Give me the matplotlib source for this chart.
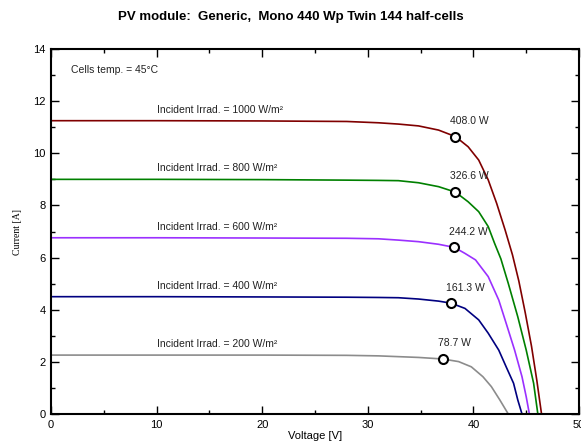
import matplotlib
matplotlib.use('Agg')
import matplotlib.pyplot as plt
from matplotlib.ticker import MultipleLocator

plt.rcParams['font.family'] = ['Liberation Sans', 'DejaVu Sans']

# I-V curves, one per irradiance
irrad = [1000, 800, 600, 400, 200]
colors = ['#800000', '#008000', '#9b30ff', '#000080', '#8c8c8c']

v_1000 = [0, 10, 20, 28, 31.0, 32.9, 34.8, 36.7, 38.3, 39.5, 40.5, 41.4, 42.2, 43.0, 43.7,
          44.3, 44.9, 45.5, 46.0, 46.45]
i_1000 = [11.25, 11.25, 11.24, 11.22, 11.17, 11.12, 11.05, 10.89, 10.64, 10.25, 9.74, 8.98,
          8.08, 7.06, 6.10, 5.10, 3.90, 2.60, 1.30, 0.0]

v_800 = [0, 10, 20, 28, 31.0, 32.9, 34.8, 36.7, 38.3, 39.5, 40.5, 41.4, 42.0, 42.6, 43.3,
         44.2, 45.0, 45.7, 46.1]
i_800 = [9.0, 9.0, 8.99, 8.97, 8.96, 8.95, 8.87, 8.72, 8.51, 8.14, 7.76, 7.19, 6.55, 5.95,
         5.01, 3.73, 2.45, 1.18, 0.0]

v_600 = [0, 10, 20, 28, 31.0, 32.9, 34.8, 36.7, 38.2, 39.2, 40.2, 41.4, 42.4, 43.1, 43.9,
         44.6, 45.0, 45.3]
i_600 = [6.76, 6.76, 6.75, 6.74, 6.72, 6.67, 6.61, 6.51, 6.39, 6.16, 5.91, 5.27, 4.37, 3.48,
         2.45, 1.43, 0.66, 0.0]

v_400 = [0, 10, 20, 28, 31.0, 32.9, 34.8, 36.7, 37.9, 39.2, 40.5, 41.4, 42.4, 43.1, 43.8,
         44.2, 44.6]
i_400 = [4.50, 4.50, 4.49, 4.48, 4.47, 4.46, 4.41, 4.33, 4.25, 4.05, 3.61, 3.10, 2.45, 1.81,
         1.18, 0.54, 0.0]

v_200 = [0, 10, 20, 28, 31.0, 32.9, 34.8, 37.1, 38.6, 39.8, 40.9, 41.7, 42.5, 43.3]
i_200 = [2.26, 2.26, 2.26, 2.25, 2.23, 2.20, 2.17, 2.11, 2.01, 1.81, 1.43, 1.05, 0.54, 0.0]

volts = [v_1000, v_800, v_600, v_400, v_200]
amps = [i_1000, i_800, i_600, i_400, i_200]

# maximum power points
mpp_v = [38.3, 38.3, 38.2, 37.9, 37.1]
mpp_i = [10.64, 8.51, 6.39, 4.25, 2.11]
mpp_w = ['408.0 W', '326.6 W', '244.2 W', '161.3 W', '78.7 W']

fig = plt.figure(figsize=(5.81, 4.47), dpi=100)
ax = fig.add_axes([0.0878, 0.0738, 0.9088, 0.8166])

for k in range(len(irrad)):
    ax.plot(volts[k], amps[k], color=colors[k], lw=1.2, zorder=2)
    ax.text(10, amps[k][0] + 0.42, 'Incident Irrad. = %d W/m²' % irrad[k],
            fontsize=7.5, color='#222222', va='center', ha='left')
    ax.plot(mpp_v[k], mpp_i[k], 'o', ms=6.5, mfc='white', mec='black', mew=1.5, zorder=3)
    ax.text(mpp_v[k] - 0.5, mpp_i[k] + 0.6, mpp_w[k], fontsize=7.5,
            color='#222222', va='center', ha='left')

ax.text(1.9, 13.2, 'Cells temp. = 45°C', fontsize=7.5, color='#222222', va='center')

ax.set_xlim(0, 50)
ax.set_ylim(0, 14)
ax.xaxis.set_major_locator(MultipleLocator(10))
ax.xaxis.set_minor_locator(MultipleLocator(5))
ax.yaxis.set_major_locator(MultipleLocator(2))
ax.yaxis.set_minor_locator(MultipleLocator(1))
ax.tick_params(which='both', direction='in', top=True, right=True, labelsize=8, pad=4)
ax.tick_params(which='major', length=6, width=1)
ax.tick_params(which='minor', length=3, width=1)
for s in ax.spines.values():
    s.set_linewidth(1.5)

ax.set_xlabel('Voltage [V]', fontsize=8, labelpad=1)
ax.set_ylabel('Current [A]', fontsize=7, family=['Liberation Serif', 'DejaVu Serif'], labelpad=8)

fig.suptitle('PV module:  Generic,  Mono 440 Wp Twin 144 half-cells',
             fontsize=9.5, fontweight='bold', x=0.5, y=0.975)

fig.savefig('out.png', dpi=100)
